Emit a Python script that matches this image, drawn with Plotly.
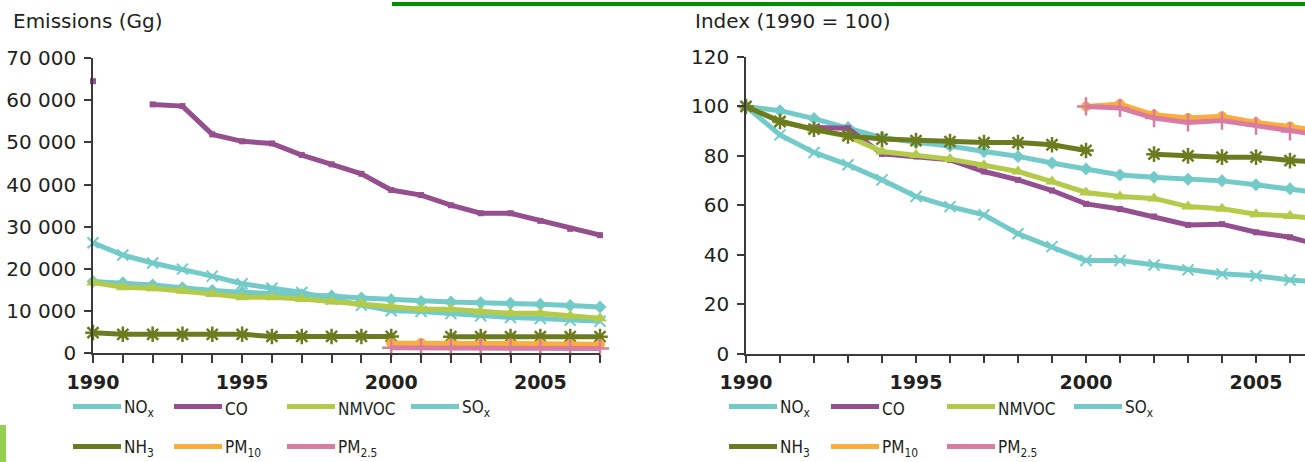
import plotly.graph_objects as go

W, H = 1305, 462

years = list(range(1990, 2008))

# Left panel: emissions (Gg)
nox_gg = [17000, 16700, 16170, 15560, 14860, 14500, 14280, 13900, 13570, 13100, 12700, 12290, 12140, 12000, 11880, 11610, 11340, 11000]
co_gg = [64500, None, 59000, 58600, 51900, 50250, 49750, 47000, 44800, 42550, 38700, 37500, 35100, 33200, 33200, 31400, 29500, 28000]
nmvoc_gg = [16800, 15640, 15400, 14830, 14050, 13270, 13270, 12870, 12300, 11800, 11040, 10430, 10430, 9860, 9480, 9480, 8840, 8290]
sox_gg = [26200, 23300, 21400, 19950, 18300, 16500, 15400, 14400, 12800, 11400, 10100, 9900, 9400, 8900, 8500, 8250, 7850, 7600]
nh3_gg = [4900, 4500, 4500, 4500, 4500, 4500, 4000, 4000, 4000, 4000, 4000, None, 3950, 3950, 3950, 3950, 3950, 3950]
pm10_gg = [None] * 10 + [2400, 2450, 2300, 2300, 2300, 2250, 2200, 2150]
pm25_gg = [None] * 10 + [1300, 1300, 1250, 1220, 1230, 1200, 1170, 1150]

# Right panel: index (1990 = 100)
nox_idx = [100, 98.3, 95.1, 91.5, 87.4, 85.5, 84.0, 81.8, 79.8, 77.1, 74.7, 72.3, 71.4, 70.6, 69.9, 68.3, 66.7, 64.8]
co_idx = [100, None, 91.5, 91.2, 80.8, 79.8, 78.4, 73.7, 70.3, 66.0, 60.6, 58.5, 55.5, 52.1, 52.4, 49.1, 47.1, 43.4]
nmvoc_idx = [100, 94.2, 90.6, 87.9, 81.8, 80.4, 78.7, 76.2, 73.7, 69.6, 65.2, 63.6, 62.8, 59.5, 58.6, 56.4, 55.7, 54.3]
sox_idx = [100, 88.5, 81.4, 76.4, 70.3, 63.6, 59.5, 56.2, 48.5, 43.3, 37.7, 37.7, 35.9, 33.9, 32.3, 31.5, 29.8, 29.0]
nh3_idx = [100, 93.9, 90.8, 88.1, 86.8, 86.2, 85.8, 85.4, 85.4, 84.5, 82.2, None, 80.7, 80.0, 79.5, 79.5, 78.1, 77.5]
pm10_idx = [None] * 10 + [100, 101, 96.6, 95.3, 96.0, 93.5, 91.9, 89.8]
pm25_idx = [None] * 10 + [100, 99.4, 95.3, 93.5, 94.3, 92.2, 89.9, 88.2]

left_ticks = [0, 10000, 20000, 30000, 40000, 50000, 60000, 70000]
left_ticktext = ["0", "10 000", "20 000", "30 000", "40 000", "50 000", "60 000", "70 000"]
right_ticks = [0, 20, 40, 60, 80, 100, 120]
x_major = [1990, 1995, 2000, 2005]

CYAN = "#72cbc8"
PURPLE = "#954f8f"
LIME = "#b4cb4a"
OLIVE = "#6b7b1f"
ORANGE = "#fbae3c"
PINK = "#d87da1"

series = [
    ("NOx", CYAN, dict(symbol="diamond", size=10, line=dict(width=0)), nox_gg, nox_idx),
    ("SOx", CYAN, dict(symbol="x-thin", size=11, line=dict(width=2, color=CYAN)), sox_gg, sox_idx),
    ("CO", PURPLE, dict(symbol="square", size=6, line=dict(width=0)), co_gg, co_idx),
    ("NMVOC", LIME, dict(symbol="triangle-up", size=12, line=dict(width=0)), nmvoc_gg, nmvoc_idx),
    ("NH3", OLIVE, dict(symbol="asterisk", size=13, line=dict(width=2.5, color=OLIVE)), nh3_gg, nh3_idx),
    ("PM10", ORANGE, dict(symbol="circle", size=10, line=dict(width=0)), pm10_gg, pm10_idx),
    ("PM2.5", PINK, dict(symbol="cross-thin", size=13, line=dict(width=2.5, color=PINK)), pm25_gg, pm25_idx),
]

fig = go.Figure()
for name, color, marker, left_vals, right_vals in series:
    for vals, xa, ya in ((left_vals, "x", "y"), (right_vals, "x2", "y2")):
        fig.add_trace(go.Scatter(
            x=years, y=vals, xaxis=xa, yaxis=ya, name=name, mode="lines+markers",
            line=dict(color=color, width=5), marker=dict(color=color, **marker),
            cliponaxis=False, showlegend=False, connectgaps=False,
        ))

def px(x):
    return x / W

def py(y):
    return 1 - y / H

FONT = "DejaVu Sans, Verdana, sans-serif"
TXT = "#231f20"
AX = "#3a3a3a"

common_x = dict(
    automargin=False, showgrid=False, zeroline=False, showline=True, linecolor=AX, linewidth=1.5,
    ticks="outside", ticklen=8, tickcolor=AX, tickwidth=1.5,
    tickvals=x_major, ticktext=[str(v) for v in x_major],
    minor=dict(ticks="outside", tick0=1990, dtick=1, ticklen=8, tickcolor=AX, tickwidth=1.5, showgrid=False),
    tickfont=dict(family=FONT, size=19, color=TXT, weight="bold"), ticklabelstandoff=3,
)
common_y = dict(
    automargin=False, showgrid=False, zeroline=False, showline=True, linecolor=AX, linewidth=1.5,
    ticks="outside", ticklen=7, tickcolor=AX, tickwidth=1.5,
    tickfont=dict(family=FONT, size=20, color=TXT), ticklabelstandoff=4,
)

x0_left, x1_left = 93, 600
x0_right = 746
right_end = 1990 + (W - x0_right) / 34.0

fig.update_layout(
    width=W, height=H, margin=dict(l=0, r=0, t=0, b=0, pad=0, autoexpand=False),
    paper_bgcolor="white", plot_bgcolor="white", showlegend=False,
    xaxis=dict(domain=[px(x0_left), px(x1_left)], range=[1990, 2007], anchor="y", **common_x),
    yaxis=dict(domain=[py(353.3), py(58)], range=[0, 70000], anchor="x",
               tickvals=left_ticks, ticktext=left_ticktext, **common_y),
    xaxis2=dict(domain=[px(x0_right), 1.0], range=[1990, right_end], anchor="y2", **common_x),
    yaxis2=dict(domain=[py(353.7), py(57)], range=[0, 120], anchor="x2",
                tickvals=right_ticks, **common_y),
)

# Titles
fig.add_annotation(x=px(11), y=py(21), xref="paper", yref="paper", text="Emissions (Gg)",
                   showarrow=False, xanchor="left", yanchor="middle",
                   font=dict(family=FONT, size=20, color=TXT))
fig.add_annotation(x=px(693), y=py(21), xref="paper", yref="paper", text="Index (1990 = 100)",
                   showarrow=False, xanchor="left", yanchor="middle",
                   font=dict(family=FONT, size=20, color=TXT))

# Decorative page elements
fig.add_shape(type="line", xref="paper", yref="paper", x0=px(392), x1=1.0, y0=py(4), y1=py(4),
              line=dict(color="#009100", width=4))
fig.add_shape(type="rect", xref="paper", yref="paper", x0=0, x1=px(6), y0=py(462), y1=py(425),
              line=dict(width=0), fillcolor="#92d050")

# Manual legends
LFONT = "DejaVu Sans Condensed, Liberation Sans Narrow, Liberation Sans, sans-serif"
legend_items = [
    ("NO<sub>x</sub>", CYAN, 0, 0),
    ("CO", PURPLE, 1, 0),
    ("NMVOC", LIME, 2, 0),
    ("SO<sub>x</sub>", CYAN, 3, 0),
    ("NH<sub>3</sub>", OLIVE, 0, 1),
    ("PM<sub>10</sub>", ORANGE, 1, 1),
    ("PM<sub>2.5</sub>", PINK, 2, 1),
]
left_cols = [73, 174, 287, 411]
right_cols = [729, 831, 947, 1074]
rows = [406.5, 446.5]
for cols in (left_cols, right_cols):
    for text, color, c, r in legend_items:
        xs = cols[c]
        yy = rows[r]
        fig.add_shape(type="line", xref="paper", yref="paper", x0=px(xs), x1=px(xs + 48),
                      y0=py(yy), y1=py(yy), line=dict(color=color, width=5))
        fig.add_annotation(x=px(xs + 49), y=py(yy + 2), xref="paper", yref="paper", text=text,
                           showarrow=False, xanchor="left", yanchor="middle",
                           font=dict(family=LFONT, size=17, color=TXT))

fig.write_html("out.html")
